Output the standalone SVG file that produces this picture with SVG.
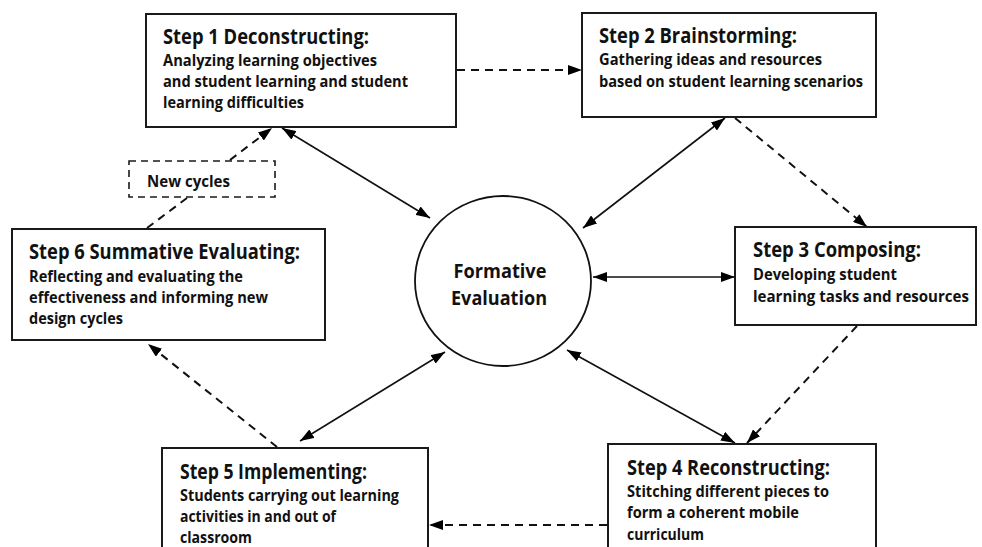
<svg xmlns="http://www.w3.org/2000/svg" width="982" height="547" viewBox="0 0 982 547">
<defs>
<marker id="ah" viewBox="0 0 14 10" refX="14" refY="5" markerWidth="14" markerHeight="10" markerUnits="userSpaceOnUse" orient="auto-start-reverse">
<path d="M0,0 L14,5 L0,10 z" fill="#000"/>
</marker>
<style>
.box{fill:#fff;stroke:#1a1a1a;stroke-width:2}
.nbox{fill:#fff;stroke:#1a1a1a;stroke-width:1.6;stroke-dasharray:7,5}
.t{font-family:"Open Sans","Noto Sans","Liberation Sans",sans-serif;font-weight:700;font-size:21px;fill:#111}
.s{font-family:"Open Sans","Noto Sans","Liberation Sans",sans-serif;font-weight:700;font-size:15.5px;fill:#111}
.c{font-family:"Open Sans","Noto Sans","Liberation Sans",sans-serif;font-weight:700;font-size:19px;fill:#111}
.sol{stroke:#111;stroke-width:1.6;fill:none}
.dash{stroke:#111;stroke-width:2;fill:none;stroke-dasharray:8,6}
</style>
</defs>
<rect width="982" height="547" fill="#fff"/>

<g id="connectors">
<line class="dash" x1="457" y1="70" x2="582" y2="70" marker-end="url(#ah)"/>
<line class="dash" x1="735" y1="118" x2="867" y2="227" marker-end="url(#ah)"/>
<line class="dash" x1="857" y1="326" x2="747" y2="443" marker-end="url(#ah)"/>
<line class="dash" x1="607" y1="525" x2="429" y2="525" marker-end="url(#ah)"/>
<line class="dash" x1="277" y1="447" x2="148" y2="344" marker-end="url(#ah)"/>
<line class="dash" x1="147" y1="228" x2="187" y2="198"/>
<line class="dash" x1="230" y1="160" x2="272" y2="128" marker-end="url(#ah)"/>
<line class="sol" x1="282" y1="128" x2="430" y2="218" marker-start="url(#ah)" marker-end="url(#ah)"/>
<line class="sol" x1="725" y1="118" x2="583" y2="228" marker-start="url(#ah)" marker-end="url(#ah)"/>
<line class="sol" x1="593" y1="277" x2="735" y2="277" marker-start="url(#ah)" marker-end="url(#ah)"/>
<line class="sol" x1="567" y1="350" x2="735" y2="443" marker-start="url(#ah)" marker-end="url(#ah)"/>
<line class="sol" x1="445" y1="352" x2="300" y2="441" marker-start="url(#ah)" marker-end="url(#ah)"/>
</g>

<g id="step1">
<rect class="box" x="146" y="14" width="310" height="113"/>
<text class="t" x="163" y="44" textLength="206" lengthAdjust="spacingAndGlyphs">Step 1 Deconstructing:</text>
<text class="s" x="163" y="66" textLength="214" lengthAdjust="spacingAndGlyphs">Analyzing learning objectives</text>
<text class="s" x="163" y="87" textLength="245" lengthAdjust="spacingAndGlyphs">and student learning and student</text>
<text class="s" x="163" y="108" textLength="141" lengthAdjust="spacingAndGlyphs">learning difficulties</text>
</g>

<g id="step2">
<rect class="box" x="582" y="13" width="294" height="104"/>
<text class="t" x="599" y="43" textLength="198" lengthAdjust="spacingAndGlyphs">Step 2 Brainstorming:</text>
<text class="s" x="599" y="65" textLength="223" lengthAdjust="spacingAndGlyphs">Gathering ideas and resources</text>
<text class="s" x="599" y="87" textLength="264" lengthAdjust="spacingAndGlyphs">based on student learning scenarios</text>
</g>

<g id="step3">
<rect class="box" x="735" y="227" width="241" height="98"/>
<text class="t" x="753" y="257" textLength="168" lengthAdjust="spacingAndGlyphs">Step 3 Composing:</text>
<text class="s" x="753" y="280" textLength="144" lengthAdjust="spacingAndGlyphs">Developing student</text>
<text class="s" x="753" y="302" textLength="216" lengthAdjust="spacingAndGlyphs">learning tasks and resources</text>
</g>

<g id="step4">
<rect class="box" x="608" y="444" width="268" height="112"/>
<text class="t" x="627" y="475" textLength="203" lengthAdjust="spacingAndGlyphs">Step 4 Reconstructing:</text>
<text class="s" x="627" y="497" textLength="202" lengthAdjust="spacingAndGlyphs">Stitching different pieces to</text>
<text class="s" x="627" y="518" textLength="172" lengthAdjust="spacingAndGlyphs">form a coherent mobile</text>
<text class="s" x="627" y="540" textLength="77" lengthAdjust="spacingAndGlyphs">curriculum</text>
</g>

<g id="step5">
<rect class="box" x="162" y="448" width="266" height="110"/>
<text class="t" x="180" y="479" textLength="187" lengthAdjust="spacingAndGlyphs">Step 5 Implementing:</text>
<text class="s" x="180" y="501" textLength="219" lengthAdjust="spacingAndGlyphs">Students carrying out learning</text>
<text class="s" x="180" y="522" textLength="156" lengthAdjust="spacingAndGlyphs">activities in and out of</text>
<text class="s" x="180" y="543" textLength="72" lengthAdjust="spacingAndGlyphs">classroom</text>
</g>

<g id="step6">
<rect class="box" x="12" y="229" width="313" height="111"/>
<text class="t" x="29" y="259" textLength="271" lengthAdjust="spacingAndGlyphs">Step 6 Summative Evaluating:</text>
<text class="s" x="29" y="282" textLength="214" lengthAdjust="spacingAndGlyphs">Reflecting and evaluating the</text>
<text class="s" x="29" y="303" textLength="239" lengthAdjust="spacingAndGlyphs">effectiveness and informing new</text>
<text class="s" x="29" y="324" textLength="94" lengthAdjust="spacingAndGlyphs">design cycles</text>
</g>

<g id="newcycles">
<rect class="nbox" x="129" y="161" width="146" height="36"/>
<text class="s" x="147" y="187" textLength="83" lengthAdjust="spacingAndGlyphs">New cycles</text>
</g>

<g id="formative">
<ellipse cx="503" cy="281" rx="88" ry="85" fill="#fff" stroke="#111" stroke-width="1.8"/>
<text class="c" x="500" y="278" text-anchor="middle" textLength="93" lengthAdjust="spacingAndGlyphs">Formative</text>
<text class="c" x="499" y="305" text-anchor="middle" textLength="96" lengthAdjust="spacingAndGlyphs">Evaluation</text>
</g>
</svg>
